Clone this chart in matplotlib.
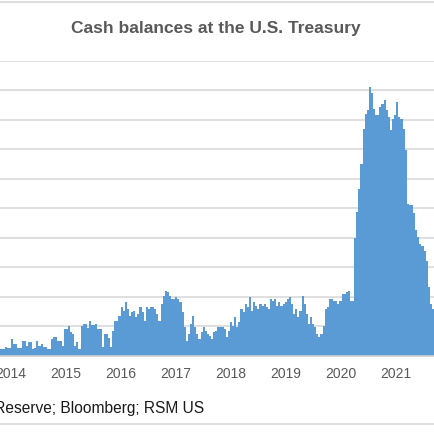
import matplotlib
matplotlib.use("Agg")
import matplotlib.pyplot as plt
import matplotlib.dates as mdates
import pandas as pd

start_date = "2013-10-02"
step = "14D"
cash_bn = [
    44, 44, 44, 44, 60, 50, 50, 112, 78, 78,
    50, 50, 100, 100, 67, 92, 92, 44, 50, 100,
    67, 78, 60, 60, 44, 44, 112, 126, 126, 100,
    100, 67, 180, 180, 203, 160, 146, 67, 92, 44,
    203, 214, 214, 190, 237, 210, 210, 214, 180, 180,
    60, 146, 146, 120, 58, 169, 237, 237, 271, 328,
    305, 362, 316, 271, 294, 305, 260, 282, 328, 294,
    237, 328, 316, 328, 328, 316, 282, 237, 350, 407,
    441, 430, 407, 384, 384, 396, 384, 362, 294, 192,
    101, 146, 214, 271, 192, 146, 112, 158, 192, 169,
    146, 135, 112, 158, 169, 192, 192, 192, 180, 124,
    169, 226, 203, 260, 192, 226, 316, 294, 350, 328,
    400, 305, 362, 339, 316, 350, 339, 350, 328, 316,
    384, 373, 384, 339, 362, 339, 350, 362, 384, 396,
    350, 282, 316, 260, 305, 407, 350, 282, 214, 260,
    214, 192, 146, 124, 146, 203, 316, 328, 384, 384,
    373, 373, 350, 373, 418, 418, 430, 441, 373, 373,
    800, 974, 1129, 1299, 1539, 1642, 1665, 1824, 1780, 1677,
    1631, 1631, 1687, 1710, 1733, 1665, 1620, 1529, 1608, 1631,
    1722, 1620, 1608, 1539, 1393, 1030, 1019, 1019, 970, 849,
    804, 758, 746, 713, 645, 464, 350, 316, 282,
]
dates = pd.date_range(start_date, periods=len(cash_bn), freq=step)

year_ticks = pd.date_range("2014-01-01", "2021-01-01", freq="YS")
view_start = pd.Timestamp("2013-10-19")
view_end = pd.Timestamp("2021-09-21")

title = "Cash balances at the U.S. Treasury"
source = "Source: Federal Reserve; Bloomberg; RSM US"

blue = "#5B9BD5"
grey_text = "#595959"
grid_grey = "#D9D9D9"

plt.rcParams["font.family"] = ["Liberation Sans", "DejaVu Sans"]

fig = plt.figure(figsize=(4.35, 4.35), dpi=100)
ax = fig.add_axes([0, 1 - 356.5 / 435, 1, (356.5 - 62) / 435])

ax.fill_between(dates, cash_bn, 0, step="mid", color=blue, linewidth=0)

ax.set_xlim(view_start, view_end)
ax.set_ylim(0, 2000)
ax.set_yticks(range(0, 2001, 200))
ax.set_xticks(year_ticks)
ax.xaxis.set_major_formatter(mdates.DateFormatter("%Y"))
ax.tick_params(axis="both", length=0, labelsize=10, colors=grey_text, pad=7.5)
ax.tick_params(axis="y", labelleft=False)

ax.grid(axis="y", color=grid_grey, linewidth=1.2)
ax.set_axisbelow(True)
for side in ["top", "left", "right"]:
    ax.spines[side].set_visible(False)
ax.spines["bottom"].set_color("#CFCFCF")
ax.spines["bottom"].set_linewidth(1.2)

fig.text(216 / 435, 1 - 28 / 435, title, ha="center", va="center",
         fontsize=12.5, fontweight="bold", color=grey_text)
fig.text(204 / 435, 1 - 409 / 435, source, ha="right", va="center",
         fontsize=11.2, color="#1a1a1a")

# frame lines of the original chart box
for y in [3, 425]:
    fig.add_artist(plt.Line2D([0, 1], [1 - y / 435, 1 - y / 435],
                              color=grid_grey, linewidth=1.2))

fig.savefig("out.png", dpi=100)
